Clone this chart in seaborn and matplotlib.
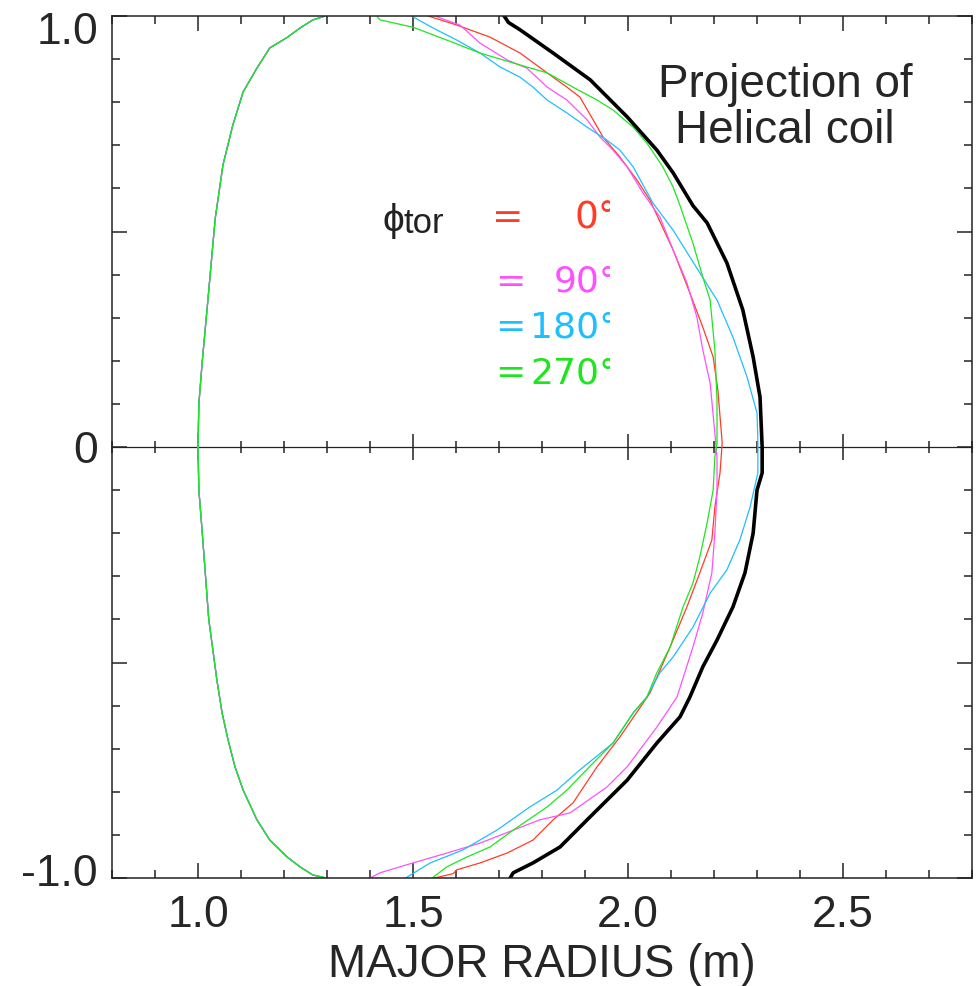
import matplotlib
matplotlib.use('Agg')
import numpy as np
import pandas as pd
import matplotlib.pyplot as plt
import matplotlib.transforms as mtransforms
from matplotlib.ticker import MultipleLocator, FixedLocator
import seaborn as sns

# projection of the helical coil (black, thick), top -> bottom
coil_r = [1.705, 1.712, 1.722, 1.749, 1.826, 1.912, 1.998, 2.067, 2.105, 2.151, 2.184,
          2.230, 2.267, 2.291, 2.307, 2.312, 2.312, 2.300, 2.291, 2.272, 2.244, 2.207,
          2.174, 2.144, 2.121, 2.067, 1.998, 1.912, 1.842, 1.779, 1.733, 1.726, 1.715]
coil_z = [1.02, 1.0, 0.985, 0.968, 0.914, 0.852, 0.766, 0.689, 0.636, 0.560, 0.520,
          0.427, 0.318, 0.209, 0.116, 0.0, -0.06, -0.10, -0.20, -0.292, -0.371, -0.448,
          -0.51, -0.58, -0.626, -0.687, -0.773, -0.858, -0.928, -0.965, -0.988, -1.0, -1.02]

# inboard side of the boundary, same for all toroidal angles (top -> bottom)
inner_r = [1.33, 1.29, 1.267, 1.237, 1.207, 1.167, 1.137, 1.105, 1.081, 1.058, 1.04,
           1.023, 1.01, 1.002, 1.0, 1.002, 1.01, 1.025, 1.044, 1.056, 1.07, 1.086, 1.105,
           1.137, 1.167, 1.207, 1.237, 1.267, 1.29, 1.33]
inner_z = [1.02, 0.998, 0.991, 0.972, 0.95, 0.926, 0.879, 0.824, 0.747, 0.654, 0.53,
           0.341, 0.2, 0.1, 0.0, -0.1, -0.2, -0.4, -0.541, -0.617, -0.68, -0.742, -0.796,
           -0.865, -0.912, -0.951, -0.974, -0.993, -0.998, -1.02]

# outboard side for each toroidal angle (top -> bottom)
r_0 = [1.50, 1.535, 1.602, 1.679, 1.749, 1.812, 1.858, 1.888, 1.919, 1.942, 1.981, 2.021,
       2.051, 2.105, 2.144, 2.174, 2.198, 2.209, 2.219, 2.214, 2.202, 2.195, 2.167, 2.137,
       2.098, 2.051, 1.981, 1.928, 1.872, 1.826, 1.779, 1.719, 1.656, 1.602, 1.593, 1.55, 1.52]
z_0 = [1.02, 1.0, 0.979, 0.951, 0.914, 0.868, 0.835, 0.812, 0.759, 0.719, 0.673, 0.619,
       0.573, 0.457, 0.357, 0.278, 0.209, 0.132, 0.01, -0.06, -0.139, -0.216, -0.292, -0.371,
       -0.464, -0.571, -0.673, -0.742, -0.826, -0.865, -0.912, -0.942, -0.965, -0.981, -0.99,
       -1.0, -1.02]

r_90 = [1.54, 1.556, 1.609, 1.656, 1.719, 1.765, 1.812, 1.858, 1.905, 1.935, 1.965, 1.998,
        2.035, 2.074, 2.105, 2.137, 2.160, 2.174, 2.191, 2.202, 2.207, 2.207, 2.202, 2.195,
        2.174, 2.151, 2.114, 2.067, 1.998, 1.951, 1.865, 1.795, 1.733, 1.656, 1.579, 1.50,
        1.423, 1.40, 1.37]
z_90 = [1.02, 0.998, 0.979, 0.937, 0.898, 0.879, 0.835, 0.805, 0.759, 0.719, 0.689, 0.650,
        0.589, 0.534, 0.457, 0.381, 0.302, 0.225, 0.148, 0.032, -0.023, -0.1, -0.2, -0.292,
        -0.385, -0.464, -0.58, -0.650, -0.742, -0.789, -0.849, -0.865, -0.889, -0.919,
        -0.942, -0.965, -0.988, -1.0, -1.02]

r_180 = [1.48, 1.50, 1.547, 1.602, 1.656, 1.702, 1.749, 1.779, 1.812, 1.858, 1.905, 1.951,
         1.981, 2.012, 2.058, 2.105, 2.167, 2.207, 2.244, 2.277, 2.300, 2.302, 2.302, 2.284,
         2.260, 2.230, 2.191, 2.151, 2.105, 2.074, 2.044, 2.012, 1.965, 1.888, 1.835, 1.772,
         1.695, 1.616, 1.540, 1.486, 1.46]
z_180 = [1.02, 0.998, 0.972, 0.944, 0.914, 0.882, 0.858, 0.835, 0.805, 0.775, 0.742, 0.712,
         0.689, 0.650, 0.566, 0.503, 0.404, 0.341, 0.255, 0.162, 0.079, 0.016, -0.06, -0.139,
         -0.216, -0.285, -0.339, -0.418, -0.487, -0.524, -0.58, -0.617, -0.687, -0.749,
         -0.796, -0.835, -0.889, -0.935, -0.965, -0.998, -1.02]

r_270 = [1.40, 1.423, 1.50, 1.579, 1.656, 1.733, 1.812, 1.872, 1.928, 1.965, 2.012, 2.044,
         2.081, 2.105, 2.121, 2.151, 2.174, 2.191, 2.202, 2.207, 2.207, 2.202, 2.198, 2.184,
         2.167, 2.151, 2.128, 2.098, 2.067, 2.044, 2.012, 1.965, 1.919, 1.858, 1.812, 1.733,
         1.679, 1.626, 1.579, 1.547, 1.52]
z_270 = [1.02, 0.991, 0.974, 0.944, 0.914, 0.891, 0.868, 0.835, 0.805, 0.782, 0.742, 0.705,
         0.650, 0.603, 0.560, 0.473, 0.394, 0.341, 0.225, 0.109, 0.009, -0.023, -0.1, -0.176,
         -0.255, -0.316, -0.371, -0.464, -0.524, -0.58, -0.617, -0.687, -0.733, -0.796,
         -0.835, -0.889, -0.928, -0.951, -0.974, -0.998, -1.02]

phi_names = ['0', '90', '180', '270']
phi_colors = ['#ff3c28', '#ff50ff', '#1ebeff', '#1ee61e']
outer_r = [r_0, r_90, r_180, r_270]
outer_z = [z_0, z_90, z_180, z_270]

rows = []
for name, rr, zz in zip(phi_names, outer_r, outer_z):
    for i, (r, z) in enumerate(zip(rr, zz)):
        rows.append({'phi': name, 'part': 'outer', 'i': i, 'R': r, 'Z': z})
    for i, (r, z) in enumerate(zip(inner_r, inner_z)):
        rows.append({'phi': name, 'part': 'inner', 'i': i, 'R': r, 'Z': z})
df = pd.DataFrame(rows)

sns.set_style('ticks')
plt.rcParams['font.family'] = ['Liberation Sans', 'DejaVu Sans']
plt.rcParams['axes.linewidth'] = 1.1

fig = plt.figure(figsize=(9.77, 9.86), dpi=100)
ax = fig.add_axes([0.11464, 0.10953, 0.88025, 0.87424])

sns.lineplot(data=df, x='R', y='Z', hue='phi', units='part', estimator=None, sort=False,
             hue_order=phi_names, palette=phi_colors, lw=0.9, legend=False, ax=ax)
sns.lineplot(x=coil_r, y=coil_z, sort=False, estimator=None, color='black', lw=2.6, ax=ax)

ax.set_xlim(0.8, 2.8)
ax.set_ylim(-1.0, 1.0)
ax.xaxis.set_major_locator(FixedLocator([1.0, 1.5, 2.0, 2.5]))
ax.xaxis.set_minor_locator(MultipleLocator(0.1))
ax.yaxis.set_major_locator(FixedLocator([-1.0, -0.5, 0.0, 0.5, 1.0]))
ax.yaxis.set_minor_locator(MultipleLocator(0.1))
ax.set_xticklabels(['1.0', '1.5', '2.0', '2.5'])
ax.set_yticklabels(['-1.0', '', '0', '', '1.0'])
ax.tick_params(which='both', direction='in', top=True, right=True, width=1.1,
               color='#222222', labelsize=32)
ax.tick_params(which='major', length=10.5)
ax.tick_params(which='minor', length=6)
ax.tick_params(axis='x', pad=12)
ax.tick_params(axis='y', pad=10)
for s in ax.spines.values():
    s.set_color('#222222')

ax.set_xlabel('MAJOR RADIUS (m)', fontsize=33, labelpad=5)
ax.set_ylabel('')

# end labels of the y axis are pulled inward
ylabels = ax.get_yticklabels()
ylabels[0].set_transform(ylabels[0].get_transform() +
                         mtransforms.ScaledTranslation(0, 0.08, fig.dpi_scale_trans))
ylabels[-1].set_transform(ylabels[-1].get_transform() +
                          mtransforms.ScaledTranslation(0, -0.12, fig.dpi_scale_trans))

# zero line with its own ticks
sec = ax.secondary_xaxis(0.5)
sec.xaxis.set_major_locator(FixedLocator([1.0, 1.5, 2.0, 2.5]))
sec.xaxis.set_minor_locator(MultipleLocator(0.1))
sec.tick_params(which='both', direction='inout', width=1.1, color='#222222',
                labeltop=False, labelbottom=False)
sec.tick_params(which='major', length=19)
sec.tick_params(which='minor', length=9)
for s in sec.spines.values():
    s.set_linewidth(0.9)
    s.set_color('#222222')

# annotation
ax.text(2.365, 0.812, 'Projection of', fontsize=33, ha='center', va='baseline')
ax.text(2.365, 0.705, 'Helical coil', fontsize=33, ha='center', va='baseline')

ax.text(1.428, 0.501, 'ϕ', fontsize=28, ha='left', va='baseline', color='#222222')
ax.text(1.478, 0.497, 'tor', fontsize=25, ha='left', va='baseline', color='#222222')

clip_box = mtransforms.TransformedBbox(mtransforms.Bbox([[0.8, -1.0], [1.958, 1.0]]),
                                       ax.transData)
eq_x = [1.684, 1.691, 1.691, 1.691]
base_y = [0.508, 0.360, 0.255, 0.148]
sizes = [27, 26, 26, 26]
for name, col, ex, by, fs in zip(phi_names, phi_colors, eq_x, base_y, sizes):
    ax.text(ex, by, '=', fontsize=fs, color=col, ha='left', va='baseline',
            family=['DejaVu Sans'])
    t = ax.text(1.976, by, name + '°', fontsize=fs, color=col, ha='right', va='baseline',
                family=['DejaVu Sans'])
    t.set_clip_box(clip_box)
    t.set_clip_on(True)

fig.savefig('out.png', dpi=100)
